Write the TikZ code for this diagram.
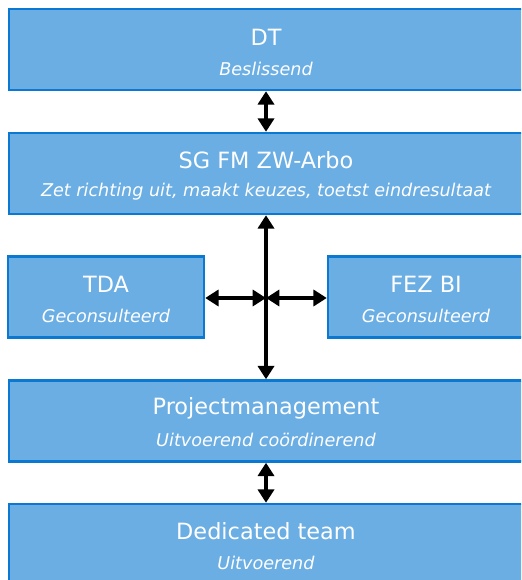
\documentclass[tikz,border=0pt]{standalone}
\usepackage{fontspec}
\setmainfont{DejaVu Sans}
\usetikzlibrary{arrows.meta}
\definecolor{boxfill}{HTML}{6AAEE4}
\definecolor{boxline}{HTML}{0B78D2}
\tikzset{
  box/.style={draw=boxline, line width=1.8pt, fill=boxfill, rectangle, inner sep=0pt},
  ttl/.style={text=white, font=\fontsize{16.8pt}{20pt}\selectfont, inner sep=0pt, anchor=center},
  sub/.style={text=white, font=\itshape\fontsize{13.2pt}{16pt}\selectfont, inner sep=0pt, anchor=center},
  arr/.style={line width=3pt, black, {Triangle[length=10pt,width=12pt]}-{Triangle[length=10pt,width=12pt]}}
}
\begin{document}
\begin{tikzpicture}[x=0.75pt,y=-0.75pt]
\clip (0,0) rectangle (521,580);
\fill[white] (0,0) rectangle (521,580);
\node[box, minimum width=516*0.75pt, minimum height=81*0.75pt] (dt) at (267,49.5) {};
\node[box, minimum width=516*0.75pt, minimum height=81*0.75pt] (sg) at (267,173.5) {};
\node[box, minimum width=196*0.75pt, minimum height=81*0.75pt] (tda) at (106,297) {};
\node[box, minimum width=196*0.75pt, minimum height=81*0.75pt] (fez) at (426,297) {};
\node[box, minimum width=516*0.75pt, minimum height=81*0.75pt] (pm) at (267,421) {};
\node[box, minimum width=516*0.75pt, minimum height=81*0.75pt] (ded) at (267,544.5) {};

\node[ttl] (dtt) at (266,37) {DT};
\node[sub] (dts) at (266,69) {Beslissend};
\node[ttl] (sgt) at (266,160) {SG FM ZW-Arbo};
\node[sub] (sgs) at (266,192) {Zet richting uit, maakt keuzes, toetst eindresultaat};
\node[ttl] (tdat) at (106,284) {TDA};
\node[sub] (tdas) at (106,316) {Geconsulteerd};
\node[ttl] (fezt) at (426,284) {FEZ BI};
\node[sub] (fezs) at (426,316) {Geconsulteerd};
\node[ttl] (pmt) at (266,408) {Projectmanagement};
\node[sub] (pms) at (266,440) {Uitvoerend coördinerend};
\node[ttl] (dedt) at (266,531) {Dedicated team};
\node[sub] (deds) at (266,563) {Uitvoerend};

\coordinate (c) at (266,298);
\draw[arr] (dt.south -| c) -- (sg.north -| c);
\draw[arr] (sg.south -| c) -- (pm.north -| c);
\draw[arr] (tda.east |- c) -- (c);
\draw[arr] (c) -- (fez.west |- c);
\draw[arr] (pm.south -| c) -- (ded.north -| c);
\end{tikzpicture}
\end{document}
